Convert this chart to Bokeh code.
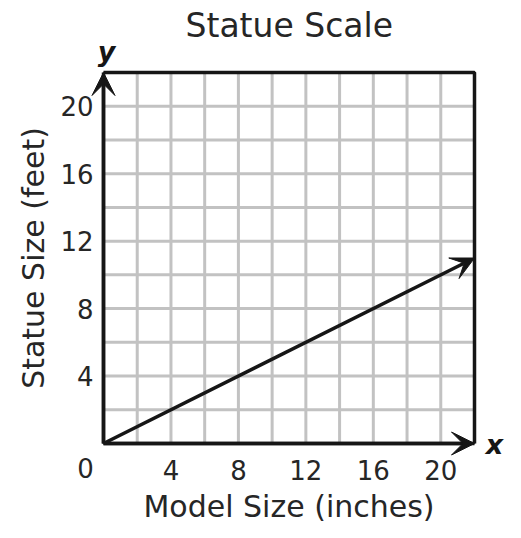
from bokeh.plotting import figure
from bokeh.models import Range1d, FixedTicker, Arrow, VeeHead, Label
from bokeh.embed import file_html
from bokeh.resources import INLINE

# ---- data ----
model_size = [0, 22]      # inches
statue_size = [0, 11]     # feet
x_ticks = [4, 8, 12, 16, 20]
y_ticks = [4, 8, 12, 16, 20]
grid_ticks = list(range(0, 23, 2))
x_max = 22
y_max = 22

# ---- style / layout ----
FONT = "DejaVu Sans"
TXT = "#262626"
INK = "#161616"
GRID = "#c2c2c2"
W, H = 521, 538
TOP = 44                       # title band
U = 371 / 22                   # px per unit
OX, OY = 103, 443              # screen position of the origin

p = figure(width=W, height=H, output_backend="svg", toolbar_location=None,
           x_range=Range1d(-OX / U, (W - OX) / U),
           y_range=Range1d(-(H - OY) / U, (OY - TOP) / U),
           min_border_left=0, min_border_right=0, min_border_top=TOP, min_border_bottom=0)
p.outline_line_color = None
p.background_fill_color = "white"
p.border_fill_color = "white"
p.xgrid.visible = False
p.ygrid.visible = False

p.title.text = "Statue Scale"
p.title.align = "left"
p.title.offset = 185
p.title.standoff = 0
p.title.text_font = FONT
p.title.text_font_size = "33px"
p.title.text_font_style = "normal"
p.title.text_color = TXT

for ax, ticks, lab in [(p.xaxis[0], x_ticks, "Model Size (inches)"),
                       (p.yaxis[0], y_ticks, "Statue Size (feet)")]:
    ax.fixed_location = 0
    ax.ticker = FixedTicker(ticks=ticks, minor_ticks=[])
    ax.axis_line_color = INK
    ax.axis_line_width = 3.5
    ax.major_tick_line_color = None
    ax.minor_tick_line_color = None
    ax.major_label_text_font = FONT
    ax.major_label_text_font_size = "26px"
    ax.major_label_text_color = TXT
    ax.axis_label = lab
    ax.axis_label_text_font = FONT
    ax.axis_label_text_font_size = "30px"
    ax.axis_label_text_font_style = "normal"
    ax.axis_label_text_color = TXT
p.xaxis[0].bounds = (0, x_max)
p.yaxis[0].bounds = (0, y_max)
p.xaxis[0].major_label_standoff = 10
p.yaxis[0].major_label_standoff = 4
p.xaxis[0].axis_label_standoff = 6
p.yaxis[0].axis_label_standoff = 6

# grid cells
n = len(grid_ticks)
p.segment(x0=grid_ticks, y0=[0] * n, x1=grid_ticks, y1=[y_max] * n, line_color=GRID, line_width=3)
p.segment(x0=[0] * n, y0=grid_ticks, x1=[x_max] * n, y1=grid_ticks, line_color=GRID, line_width=3)

# top and right border
p.line(x=[0, x_max, x_max], y=[y_max, y_max, 0], line_color=INK, line_width=3.5)

def head():
    return VeeHead(size=23, fill_color=INK, line_color=INK, line_width=1)

# axis arrows
p.add_layout(Arrow(x_start=0, y_start=0, x_end=0, y_end=y_max, line_width=3.5, line_color=INK, end=head()))
p.add_layout(Arrow(x_start=0, y_start=0, x_end=x_max, y_end=0, line_width=3.5, line_color=INK, end=head()))
# data line
p.add_layout(Arrow(x_start=model_size[0], y_start=statue_size[0], x_end=model_size[-1], y_end=statue_size[-1],
                   line_width=3.5, line_color=INK, end=head()))

p.add_layout(Label(x=0, y=y_max, x_offset=3, y_offset=21, text="y", text_font=FONT, text_font_size="27px",
                   text_font_style="bold italic", text_align="center", text_baseline="middle", text_color=INK))
p.add_layout(Label(x=x_max, y=0, x_offset=20, y_offset=-1, text="x", text_font=FONT, text_font_size="27px",
                   text_font_style="bold italic", text_align="center", text_baseline="middle", text_color=INK))
p.add_layout(Label(x=0, y=0, x_offset=-18, y_offset=-24, text="0", text_font=FONT, text_font_size="26px",
                   text_align="center", text_baseline="middle", text_color=TXT))

open("out.html", "w").write(file_html(p, INLINE))
